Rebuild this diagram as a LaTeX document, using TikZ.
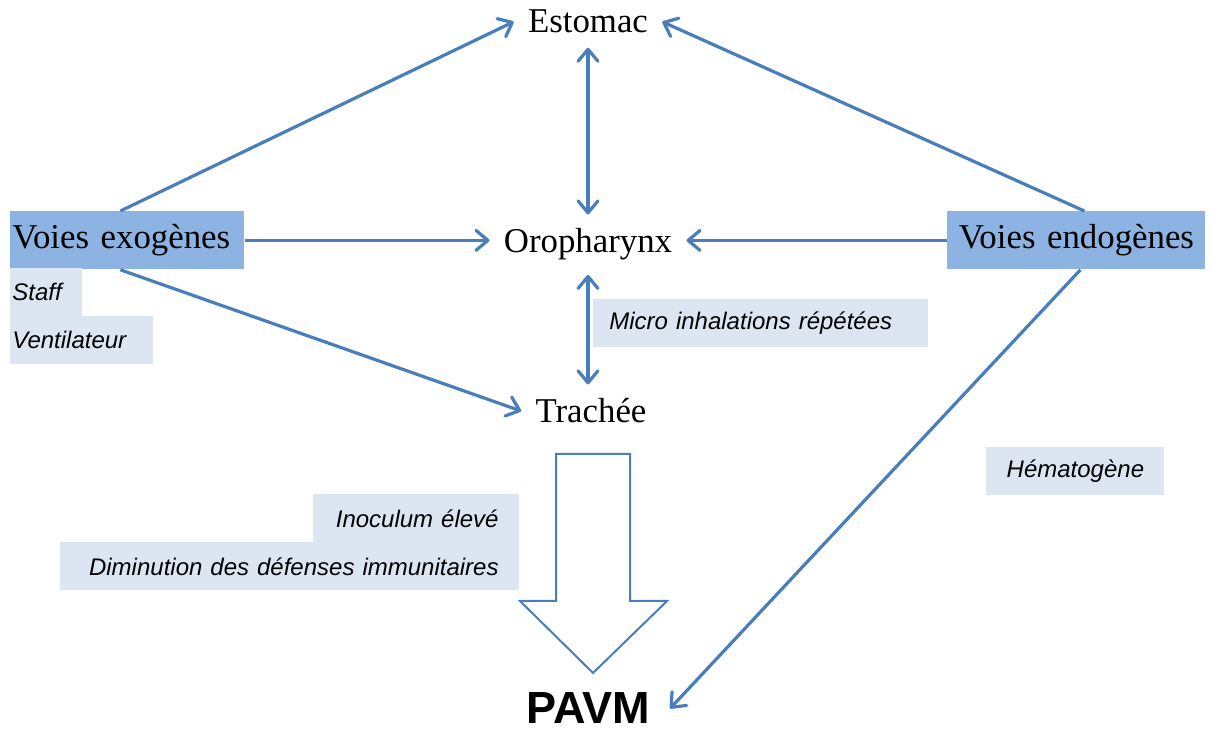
\documentclass[tikz,border=0pt]{standalone}
\usepackage{fontspec}
\setmainfont{Liberation Serif}
\newfontfamily\sansfont{Liberation Sans}
\usetikzlibrary{arrows.meta}
\definecolor{linkblue}{HTML}{4A7EBB}
\definecolor{voiefill}{HTML}{8DB3E2}
\definecolor{notefill}{HTML}{DCE6F2}

\begin{document}
\begin{tikzpicture}[->,>={Straight Barb[length=6pt,width=10pt,round]},x=0.5pt,y=-0.5pt]
  \tikzstyle{every edge}=[draw=linkblue,line width=1.6pt]
  \tikzstyle{organ}=[inner sep=7pt,font=\fontsize{17.4}{20}\selectfont]
  \tikzstyle{voie}=[fill=voiefill,inner sep=0pt,minimum height=29pt,font=\fontsize{17.4}{20}\selectfont]
  \tikzstyle{note}=[fill=notefill,inner sep=0pt,minimum height=24pt,font=\sansfont\itshape\fontsize{12}{14}\selectfont]
  \useasboundingbox (0,0) rectangle (1211,731);

  \node[organ,anchor=base] (estomac) at (588,33)  {Estomac};
  \node[organ,anchor=base] (oro)     at (588,253) {Oropharynx};
  \node[organ,anchor=base] (trachee) at (591,423) {Trachée};
  \node[inner xsep=10pt,inner ysep=1pt,anchor=base,font=\sansfont\bfseries\fontsize{22.5}{26}\selectfont] (pavm) at (588,724) {PAVM};

  \node[voie,anchor=north west,inner xsep=1pt,text width=115pt,align=left] (exo) at (10,211) {Voies exogènes};
  \node[voie,anchor=north west,text width=129pt,align=center] (endo) at (947,211) {Voies endogènes};

  % labels
  \node[note,anchor=north west,inner xsep=1pt,text width=34pt,align=left]   (staff)  at (10,268)  {Staff};
  \node[note,anchor=north west,inner xsep=1pt,text width=69.5pt,align=left] (venti)  at (10,316)  {Ventilateur};
  \node[note,anchor=north west,inner xsep=8pt,text width=151.5pt,align=left] (micro) at (593,299) {Micro inhalations répétées};
  \node[note,anchor=north west,text width=89pt,align=center] (hemato) at (986,447) {Hématogène};
  \node[note,anchor=north east,inner xsep=10pt,text width=83pt,align=right]    (inoc)  at (519,494) {Inoculum élevé};
  \node[note,anchor=north east,inner xsep=10pt,text width=209.5pt,align=right] (dimin) at (519,542) {Diminution des défenses immunitaires};

  \path ([xshift=-3.5pt]exo.north) edge (estomac.west)
        ([xshift=4pt]endo.north)   edge (estomac.east)
        (estomac.south)            edge [<->] (estomac.south |- oro.north)
        (exo)                      edge (exo -| oro.west)
        (endo)                     edge (endo -| oro.east)
        (oro.south)                edge [<->] (oro.south |- trachee.north)
        ([xshift=-3.5pt]exo.south) edge (trachee.west)
        ([xshift=2pt]endo.south)   edge (pavm.east);

  % big arrow
  \draw[-,draw=linkblue,line width=1pt,fill=white]
    (556,454) -- (630,454) -- (630,601) -- (667,601) -- (593,673) -- (520,601) -- (556,601) -- cycle;
\end{tikzpicture}
\end{document}
